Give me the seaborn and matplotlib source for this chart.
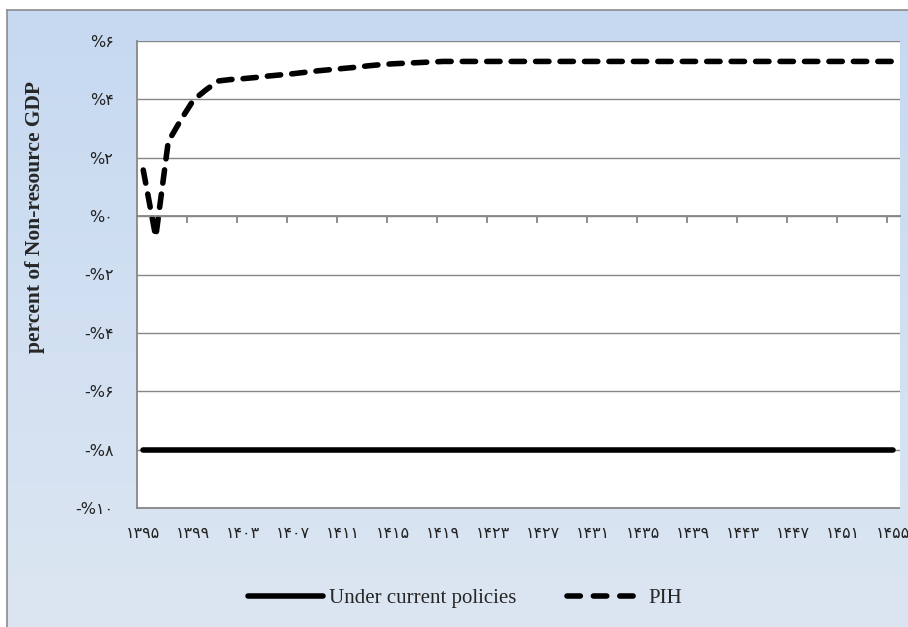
import numpy as np
import pandas as pd
import matplotlib
matplotlib.use("Agg")
import matplotlib.pyplot as plt
import seaborn as sns
from matplotlib.lines import Line2D

# ---------------- data ----------------
years = list(range(1395, 1456))
pih_head = [1.58, -0.71, 2.55, 3.29, 3.97, 4.32, 4.63, 4.68, 4.71, 4.75,
            4.80, 4.84, 4.88, 4.93, 4.98, 5.02, 5.06, 5.10, 5.15, 5.19,
            5.22, 5.24, 5.26, 5.28, 5.30]
pih = pih_head + [5.30] * (len(years) - len(pih_head))
current = [-8.0] * len(years)

series_names = ["Under current policies", "PIH"]
y_ticks = [-10, -8, -6, -4, -2, 0, 2, 4, 6]
y_tick_labels = ["-%۱۰", "-%۸", "-%۶", "-%۴", "-%۲", "%۰", "%۲", "%۴", "%۶"]
x_tick_years = list(range(1395, 1456, 4))
x_tick_labels = ["۱۳۹۵", "۱۳۹۹", "۱۴۰۳", "۱۴۰۷", "۱۴۱۱", "۱۴۱۵", "۱۴۱۹", "۱۴۲۳",
                 "۱۴۲۷", "۱۴۳۱", "۱۴۳۵", "۱۴۳۹", "۱۴۴۳", "۱۴۴۷", "۱۴۵۱", "۱۴۵۵"]
y_label = "percent of Non-resource GDP"

df = pd.DataFrame({
    "year": years * 2,
    "value": current + pih,
    "series": [series_names[0]] * len(years) + [series_names[1]] * len(years),
})

# ---------------- figure ----------------
sns.set_style("white")
W, H = 908, 627
fig = plt.figure(figsize=(W / 100, H / 100), dpi=100)
fig.patch.set_facecolor("white")

serif = ["Liberation Serif", "DejaVu Serif"]
sans = ["DejaVu Sans"]
grid_c = "#868686"

# gradient chart-area background
bg = fig.add_axes([7 / W, 0, 1 - 7 / W, 1 - 10 / H], zorder=-10)
top_c = np.array([0xc6, 0xd9, 0xf1]) / 255
bot_c = np.array([0xdc, 0xe6, 0xf2]) / 255
t = np.linspace(0, 1, 256)[:, None, None]
grad = top_c * (1 - t) + bot_c * t
bg.imshow(grad, aspect="auto", extent=[0, 1, 0, 1])
bg.set_xticks([]); bg.set_yticks([])
for s in ["right", "bottom"]:
    bg.spines[s].set_visible(False)
for s in ["left", "top"]:
    bg.spines[s].set_color("#8c8c8c")
    bg.spines[s].set_linewidth(1.2)

# plot area
left, right, top, bottom = 137, 899.5, 41, 508
ax = fig.add_axes([left / W, 1 - bottom / H, (right - left) / W, (bottom - top) / H])
ax.set_facecolor("white")

lw = 4.0
sns.lineplot(data=df[df.series == series_names[0]], x="year", y="value",
             ax=ax, color="black", linewidth=lw, legend=False,
             solid_capstyle="round")
sns.lineplot(data=df[df.series == series_names[1]], x="year", y="value",
             ax=ax, color="black", linewidth=lw, legend=False)
pih_line = ax.lines[-1]
pih_line.set_dashes((2.4, 2.0))
pih_line.set_dash_capstyle("round")
pih_line.set_dash_joinstyle("round")

ax.set_xlim(years[0] - 0.5, years[-1] + 0.5)
ax.set_ylim(-10, 6)
ax.set_yticks(y_ticks)
ax.set_yticklabels(y_tick_labels, fontfamily=sans, fontsize=11.5, color="#222222")
ax.yaxis.grid(True, color=grid_c, linewidth=1.0)
ax.set_axisbelow(True)
ax.tick_params(axis="y", direction="out", length=5, width=1, color=grid_c, pad=12)

ax.set_xticks(x_tick_years)
ax.set_xticklabels(x_tick_labels, fontfamily=sans, fontsize=11.5, color="#222222")
ax.tick_params(axis="x", length=0, pad=13)
ax.set_xlabel("")
ax.set_ylabel(y_label, fontfamily=serif, fontsize=15.5, fontweight="bold")
ax.yaxis.set_label_coords((45 - left) / (right - left), (bottom - 217) / (bottom - top))

for s in ["top", "right"]:
    ax.spines[s].set_visible(False)
ax.spines["left"].set_color(grid_c)
ax.spines["left"].set_linewidth(1.3)
ax.spines["bottom"].set_color(grid_c)
ax.spines["bottom"].set_linewidth(1.3)

# horizontal category axis crossing at 0 with tick marks between categories
ax2 = ax.twiny()
ax2.set_xlim(ax.get_xlim())
ax2.spines["bottom"].set_position(("data", 0))
ax2.spines["bottom"].set_color(grid_c)
ax2.spines["bottom"].set_linewidth(1.3)
for s in ["top", "left", "right"]:
    ax2.spines[s].set_visible(False)
ax2.xaxis.set_ticks_position("bottom")
ax2.set_xticks([y - 0.5 for y in x_tick_years[1:]])
ax2.tick_params(axis="x", direction="out", length=5, width=1.3, color=grid_c,
                labelbottom=False, labeltop=False)

# legend
handles = [
    Line2D([], [], color="black", linewidth=lw, solid_capstyle="round"),
    Line2D([], [], color="black", linewidth=lw, dashes=(2.4, 2.35),
           dash_capstyle="round"),
]
fig.legend(handles, series_names, loc="center", bbox_to_anchor=(465 / W, 1 - 598 / H),
           ncol=2, frameon=False, prop={"family": serif, "size": 15},
           handlelength=3.6, handletextpad=0.3, columnspacing=2.4)

fig.savefig("out.png", dpi=100)
